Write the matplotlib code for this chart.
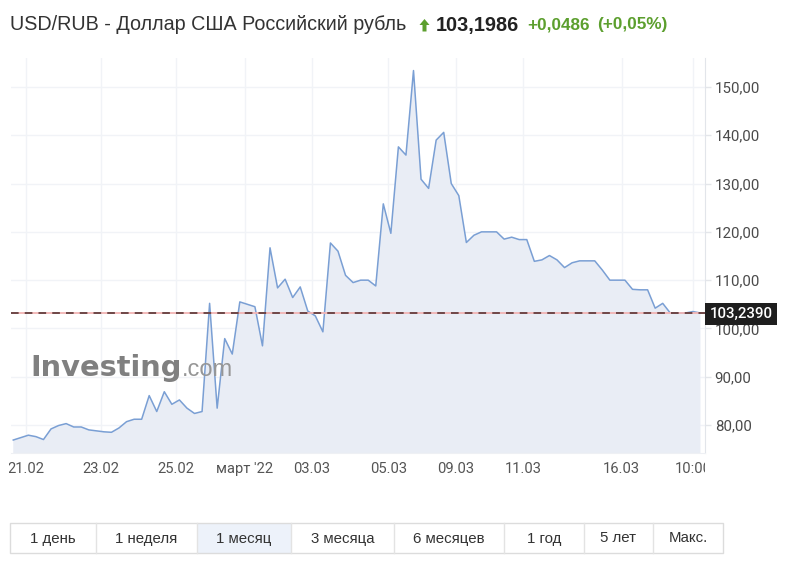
import matplotlib
matplotlib.use("Agg")
import matplotlib.pyplot as plt
import numpy as np
from matplotlib.patches import Rectangle, Polygon
from matplotlib.transforms import Affine2D, Bbox, TransformedBbox

# ---------------- data ----------------
values = [76.9, 77.4, 77.9, 77.6, 77.0, 79.2, 79.9, 80.3, 79.6, 79.6,
          79.0, 78.8, 78.6, 78.5, 79.4, 80.7, 81.2, 81.2, 86.1, 82.8,
          86.9, 84.3, 85.2, 83.5, 82.4, 82.8, 105.2, 83.5, 97.9, 94.7,
          105.5, 105.0, 104.5, 96.4, 116.7, 108.4, 110.2, 106.4, 108.6, 103.6,
          102.6, 99.3, 117.7, 116.0, 111.0, 109.5, 110.0, 110.0, 108.8, 125.8,
          119.7, 137.6, 135.9, 153.4, 130.9, 129.0, 139.0, 140.6, 130.0, 127.5,
          117.8, 119.3, 120.0, 120.0, 120.0, 118.5, 118.9, 118.4, 118.4, 113.9,
          114.2, 115.1, 114.2, 112.6, 113.6, 114.0, 114.0, 114.0, 112.1, 110.0,
          110.0, 110.0, 108.1, 108.0, 108.0, 104.2, 105.2, 103.2, 103.2, 103.2,
          103.5, 103.2]
last_price = 103.2390
x_labels = ["21.02", "23.02", "25.02", "март '22", "03.03", "05.03",
            "09.03", "11.03", "16.03", "10:00"]
x_label_pos = [1.64, 11.58, 21.51, 30.65, 39.52, 49.67, 58.64, 67.55, 80.58, 90.07]
y_ticks = [80, 90, 100, 110, 120, 130, 140, 150]
title = "USD/RUB - Доллар США Российский рубль"
price_txt = "103,1986"
change_txt = "+0,0486"
pct_txt = "(+0,05%)"
buttons = ["1 день", "1 неделя", "1 месяц", "3 месяца", "6 месяцев", "1 год", "5 лет", "Макс."]
selected_button = "1 месяц"

# ---------------- figure ----------------
W, H = 797, 567
fig = plt.figure(figsize=(W / 100, H / 100), dpi=100)
fig.patch.set_facecolor("white")
px = Affine2D().scale(1 / W, -1 / H).translate(0, 1) + fig.transFigure

def fx(x):
    return x / W

def fy(y):
    return 1 - y / H

L, R, T, B = 11, 705, 58, 453.3
ax = fig.add_axes([fx(L), fy(B), (R - L) / W, (B - T) / H])
ax.set_facecolor("white")

xs = np.arange(len(values))
line_c = "#7a9fd4"
ax.fill_between(xs, values, 0, color="#e9edf5", lw=0, zorder=1)
ax.plot(xs, values, color=line_c, lw=1.1, zorder=3)
ax.set_xlim(-0.3, 91.6)
ax.set_ylim(74.15, 156.0)

grid_c = "#f1f3f7"
ax.set_yticks(y_ticks)
ax.set_yticklabels([f"{v},00" for v in y_ticks])
ax.set_xticks(x_label_pos)
ax.set_xticklabels(x_labels)
ax.grid(True, color=grid_c, lw=1.0, zorder=0)
ax.set_axisbelow(True)

ax.yaxis.tick_right()
ax.tick_params(axis="y", length=4, width=1, color="#e4e6ea", pad=3,
               labelsize=10.8, labelcolor="#4a4a4a")
ax.tick_params(axis="x", length=0, pad=6, labelsize=10.6, labelcolor="#555555")
for lab in ax.get_yticklabels() + ax.get_xticklabels():
    lab.set_fontfamily("Roboto")

for s in ["top", "left"]:
    ax.spines[s].set_visible(False)
ax.spines["right"].set_color("#e2e5ea")
ax.spines["bottom"].set_color("#eef0f4")

# last price line
ax.axhline(last_price, color="#f2b4b4", lw=1.3, zorder=4)
ax.axhline(last_price, color="#4a2828", lw=1.1, ls=(0, (5, 4)), zorder=5)

# clip x labels to plot width
clipbox = TransformedBbox(Bbox([[L - 2, 0], [R, H]]),
                          Affine2D().scale(1 / W, 1 / H) + fig.transFigure)
fig.canvas.draw()
for lab in ax.get_xticklabels():
    lab.set_clip_box(clipbox)
    lab.set_clip_on(True)

# price box on the axis
fig.add_artist(Rectangle((705, 302.5), 72.5, 22, transform=px,
                         facecolor="#1e1e1e", edgecolor="none", zorder=10))
fig.text(fx(741), fy(313.5), f"{last_price:.4f}".replace(".", ","),
         ha="center", va="center", color="white", fontsize=10.8,
         fontfamily="Roboto", fontweight="medium", zorder=11)

# watermark
fig.text(fx(30), fy(376), "Investing", fontsize=20.8, fontweight="bold",
         fontfamily="DejaVu Sans", color="#808080", va="baseline", ha="left")
fig.text(fx(182), fy(376), ".com", fontsize=17, fontfamily="Liberation Sans",
         color="#969696", va="baseline", ha="left")

# header
fig.text(fx(10), fy(25), title, fontsize=14.2, fontfamily="Liberation Sans",
         color="#333333", va="center", ha="left")
green = "#5c9f2e"
fig.add_artist(Polygon([(424.5, 19), (429.5, 25), (426.5, 25), (426.5, 31.5),
                        (422.5, 31.5), (422.5, 25), (419.5, 25)],
                       closed=True, transform=px, facecolor=green,
                       edgecolor="none"))
fig.text(fx(436), fy(25), price_txt, fontsize=14.4, fontweight="bold",
         fontfamily="Liberation Sans", color="#222222", va="center", ha="left")
fig.text(fx(527), fy(25), change_txt, fontsize=12.3, fontweight="bold",
         fontfamily="Liberation Sans", color=green, va="center", ha="left")
fig.text(fx(597), fy(25), pct_txt, fontsize=12.3, fontweight="bold",
         fontfamily="Liberation Sans", color=green, va="center", ha="left")

# buttons
edges = [10, 96, 197, 291, 394, 504, 584, 653, 723]
by0, by1 = 523, 553
for i, name in enumerate(buttons):
    x0, x1 = edges[i], edges[i + 1]
    fc = "#edf2fa" if name == selected_button else "white"
    fig.add_artist(Rectangle((x0, by0), x1 - x0, by1 - by0, transform=px,
                             facecolor=fc, edgecolor="none"))
    fig.text(fx((x0 + x1) / 2), fy((by0 + by1) / 2 + 0.5), name, fontsize=10.8,
             fontfamily="Liberation Sans", color="#333333",
             ha="center", va="center")
fig.add_artist(Rectangle((10, by0), 713, by1 - by0, transform=px,
                         facecolor="none", edgecolor="#dcdcdc", lw=1))
for e in edges[1:-1]:
    fig.add_artist(plt.Line2D([e, e], [by0, by1], transform=px,
                              color="#e3e3e3", lw=1))

fig.savefig("out.png", dpi=100)
